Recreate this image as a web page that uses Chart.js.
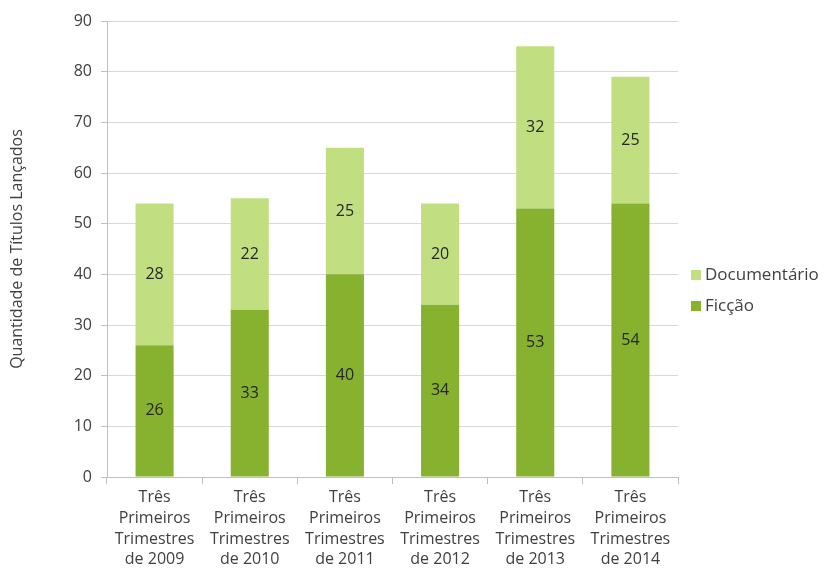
<!DOCTYPE html>
<html>
<head>
<meta charset="utf-8">
<script src="https://cdn.jsdelivr.net/npm/chart.js@4"></script>
<style>
  html, body { margin: 0; padding: 0; background: #fff; }
  #wrap { width: 827px; height: 570px; }
</style>
</head>
<body>
<div id="wrap"><canvas id="chart" width="827" height="570"></canvas></div>
<script>
// dados do gráfico
const categories = [
    ['Três', 'Primeiros', 'Trimestres', 'de 2009'],
    ['Três', 'Primeiros', 'Trimestres', 'de 2010'],
    ['Três', 'Primeiros', 'Trimestres', 'de 2011'],
    ['Três', 'Primeiros', 'Trimestres', 'de 2012'],
    ['Três', 'Primeiros', 'Trimestres', 'de 2013'],
    ['Três', 'Primeiros', 'Trimestres', 'de 2014']
];
const ficcao = [26, 33, 40, 34, 53, 54];
const documentario = [28, 22, 25, 20, 32, 25];
const yTicks = [0, 10, 20, 30, 40, 50, 60, 70, 80, 90];

const FONT = "'Open Sans', 'DejaVu Sans', sans-serif";
const TEXT = '#404040';

// rótulos de valor no meio de cada segmento
const valueLabels = {
    id: 'valueLabels',
    afterDatasetsDraw(chart) {
        const ctx = chart.ctx;
        ctx.save();
        ctx.font = '16px ' + FONT;
        ctx.fillStyle = '#262626';
        ctx.textAlign = 'center';
        ctx.textBaseline = 'middle';
        chart.data.datasets.forEach((ds, i) => {
            chart.getDatasetMeta(i).data.forEach((bar, j) => {
                const mid = (bar.y + bar.base) / 2;
                ctx.fillText(ds.data[j], bar.x, mid);
            });
        });
        ctx.restore();
    }
};

// legenda à direita (Documentário em cima)
const sideLegend = {
    id: 'sideLegend',
    afterDraw(chart) {
        const ctx = chart.ctx;
        const items = chart.data.datasets.slice().reverse();
        ctx.save();
        ctx.font = '17px ' + FONT;
        ctx.textBaseline = 'middle';
        ctx.textAlign = 'left';
        items.forEach((ds, i) => {
            const y = 275 + i * 31;
            ctx.fillStyle = ds.backgroundColor;
            ctx.fillRect(691, y - 5, 10, 10);
            ctx.fillStyle = TEXT;
            ctx.fillText(ds.label, 705, y);
        });
        ctx.restore();
    }
};

new Chart(document.getElementById('chart'), {
    type: 'bar',
    data: {
        labels: categories,
        datasets: [
            { label: 'Ficção', data: ficcao, backgroundColor: '#86b22f' },
            { label: 'Documentário', data: documentario, backgroundColor: '#c1df80' }
        ]
    },
    options: {
        responsive: false,
        animation: false,
        layout: { padding: { left: 8, right: 149, top: 21, bottom: 2 } },
        datasets: { bar: { barPercentage: 0.4, categoryPercentage: 1 } },
        plugins: {
            legend: { display: false },
            tooltip: { enabled: false }
        },
        scales: {
            x: {
                stacked: true,
                afterFit(axis) { axis.height = 91; },
                grid: { display: true, drawOnChartArea: false, offset: true, tickLength: 7, color: '#bfbfbf' },
                border: { color: '#bfbfbf' },
                ticks: { color: TEXT, font: { size: 16, family: FONT, lineHeight: 1.3 }, padding: 3, maxRotation: 0 }
            },
            y: {
                stacked: true,
                min: 0,
                max: 90,
                afterBuildTicks(axis) { axis.ticks = yTicks.map(v => ({ value: v })); },
                afterFit(axis) { axis.width = 99; },
                grid: { color: '#d9d9d9', tickLength: 6, tickColor: '#bfbfbf' },
                border: { color: '#bfbfbf' },
                ticks: { color: TEXT, font: { size: 16, family: FONT }, padding: 9 },
                title: {
                    display: true,
                    text: 'Quantidade de Títulos Lançados',
                    color: TEXT,
                    font: { size: 16, family: FONT },
                    padding: { top: 0, bottom: 0 }
                }
            }
        }
    },
    plugins: [valueLabels, sideLegend]
});
</script>
</body>
</html>
